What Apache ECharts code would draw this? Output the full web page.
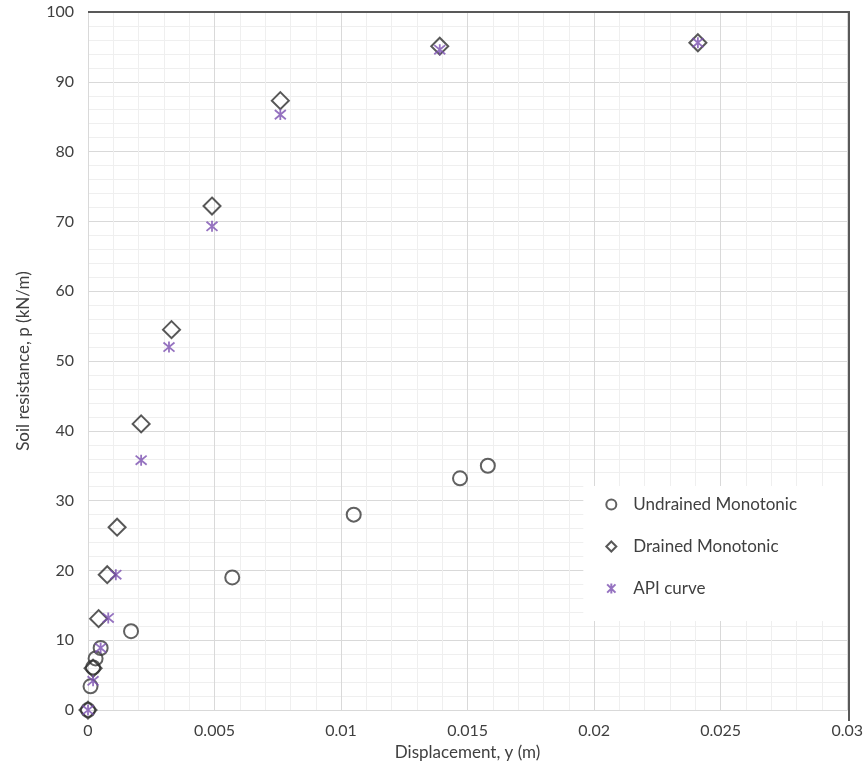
<!DOCTYPE html>
<html>
<head>
<meta charset="utf-8">
<script src="https://cdn.jsdelivr.net/npm/echarts@6/dist/echarts.min.js"></script>
<style>html,body{margin:0;padding:0;background:#fff}#c{width:866px;height:766px}</style>
</head>
<body>
<div id="c"></div>
<script>
// Undrained Monotonic (circles)
const undrainedX = [0, 0.0001, 0.0002, 0.0003, 0.0005, 0.0017, 0.0057, 0.0105, 0.0147, 0.0158];
const undrainedY = [0, 3.4, 6.1, 7.4, 8.9, 11.3, 19.0, 28.0, 33.2, 35.0];
// Drained Monotonic (diamonds)
const drainedX = [0, 0.0002, 0.00042, 0.00076, 0.00115, 0.0021, 0.0033, 0.0049, 0.0076, 0.0139, 0.0241];
const drainedY = [0, 6.0, 13.1, 19.4, 26.2, 41.0, 54.5, 72.2, 87.3, 95.1, 95.6];
// API curve (asterisks)
const apiX = [0, 0.0002, 0.0005, 0.0008, 0.0011, 0.0021, 0.0032, 0.0049, 0.0076, 0.0139, 0.0241];
const apiY = [0, 4.2, 8.9, 13.2, 19.4, 35.8, 52.0, 69.3, 85.3, 94.6, 95.6];

const pair = (xs, ys) => xs.map((x, i) => [x, ys[i]]);
const FONT = 'Lato';
const TXT = '#404040';
const PURPLE = '#7b4fb0';
const STAR = 'path://M0,0 L10,10 M10,0 L0,10 M5,-1 L5,11';

const W = 866, H = 766;
const G = { left: 88, right: 17, top: 12, bottom: 45 };

const chart = echarts.init(document.getElementById('c'));
chart.setOption({
  animation: false,
  textStyle: { fontFamily: FONT },
  grid: { left: G.left, right: G.right, top: G.top, bottom: G.bottom },
  graphic: [{
    type: 'polyline', z: 100, silent: true,
    shape: { points: [[G.left, G.top], [W - G.right, G.top], [W - G.right, H - G.bottom]] },
    style: { stroke: '#595959', lineWidth: 2, fill: null }
  }],
  legend: {
    orient: 'vertical',
    right: 19, top: 486,
    padding: [10, 50, 24, 22],
    backgroundColor: '#ffffff',
    itemGap: 25,
    itemWidth: 10, itemHeight: 10,
    textStyle: { fontFamily: FONT, fontSize: 17, color: TXT, padding: [0, 0, 0, 12] },
    data: ['Undrained Monotonic', 'Drained Monotonic', 'API curve']
  },
  xAxis: {
    type: 'value', min: 0, max: 0.03, interval: 0.005,
    name: 'Displacement, y (m)', nameLocation: 'middle', nameGap: 30,
    nameTextStyle: { fontFamily: FONT, fontSize: 17, color: TXT },
    axisLine: { show: true, onZero: false, lineStyle: { color: '#d9d9d9' } },
    axisTick: { show: false },
    axisLabel: { fontFamily: FONT, fontSize: 16, color: TXT, margin: 13,
      formatter: v => String(parseFloat(v.toFixed(4))) },
    splitLine: { show: true, lineStyle: { color: '#d9d9d9' } },
    minorTick: { show: false, splitNumber: 5 },
    minorSplitLine: { show: true, lineStyle: { color: '#efefef' } }
  },
  yAxis: {
    type: 'value', min: 0, max: 100, interval: 10,
    name: 'Soil resistance, p (kN/m)', nameLocation: 'middle', nameGap: 56,
    nameTextStyle: { fontFamily: FONT, fontSize: 17, color: TXT },
    axisLine: { show: true, onZero: false, lineStyle: { color: '#d9d9d9' } },
    axisTick: { show: false },
    axisLabel: { fontFamily: FONT, fontSize: 16, color: TXT, margin: 14 },
    splitLine: { show: true, lineStyle: { color: '#d9d9d9' } },
    minorTick: { show: false, splitNumber: 5 },
    minorSplitLine: { show: true, lineStyle: { color: '#efefef' } }
  },
  series: [{
    name: 'Undrained Monotonic', type: 'scatter', symbol: 'circle', symbolSize: 14,
    itemStyle: { color: 'rgba(255,255,255,0)', borderColor: '#3a3a3a', borderWidth: 2 },
    data: pair(undrainedX, undrainedY), z: 3
  }, {
    name: 'Drained Monotonic', type: 'scatter', symbol: 'diamond', symbolSize: [17, 17],
    itemStyle: { color: 'rgba(255,255,255,0)', borderColor: '#2e2e2e', borderWidth: 2 },
    data: pair(drainedX, drainedY), z: 4
  }, {
    name: 'API curve', type: 'scatter', symbol: STAR, symbolSize: 11,
    itemStyle: { color: 'rgba(255,255,255,0)', borderColor: PURPLE, borderWidth: 1.8 },
    data: pair(apiX, apiY), z: 5
  }]
});
</script>
</body>
</html>
